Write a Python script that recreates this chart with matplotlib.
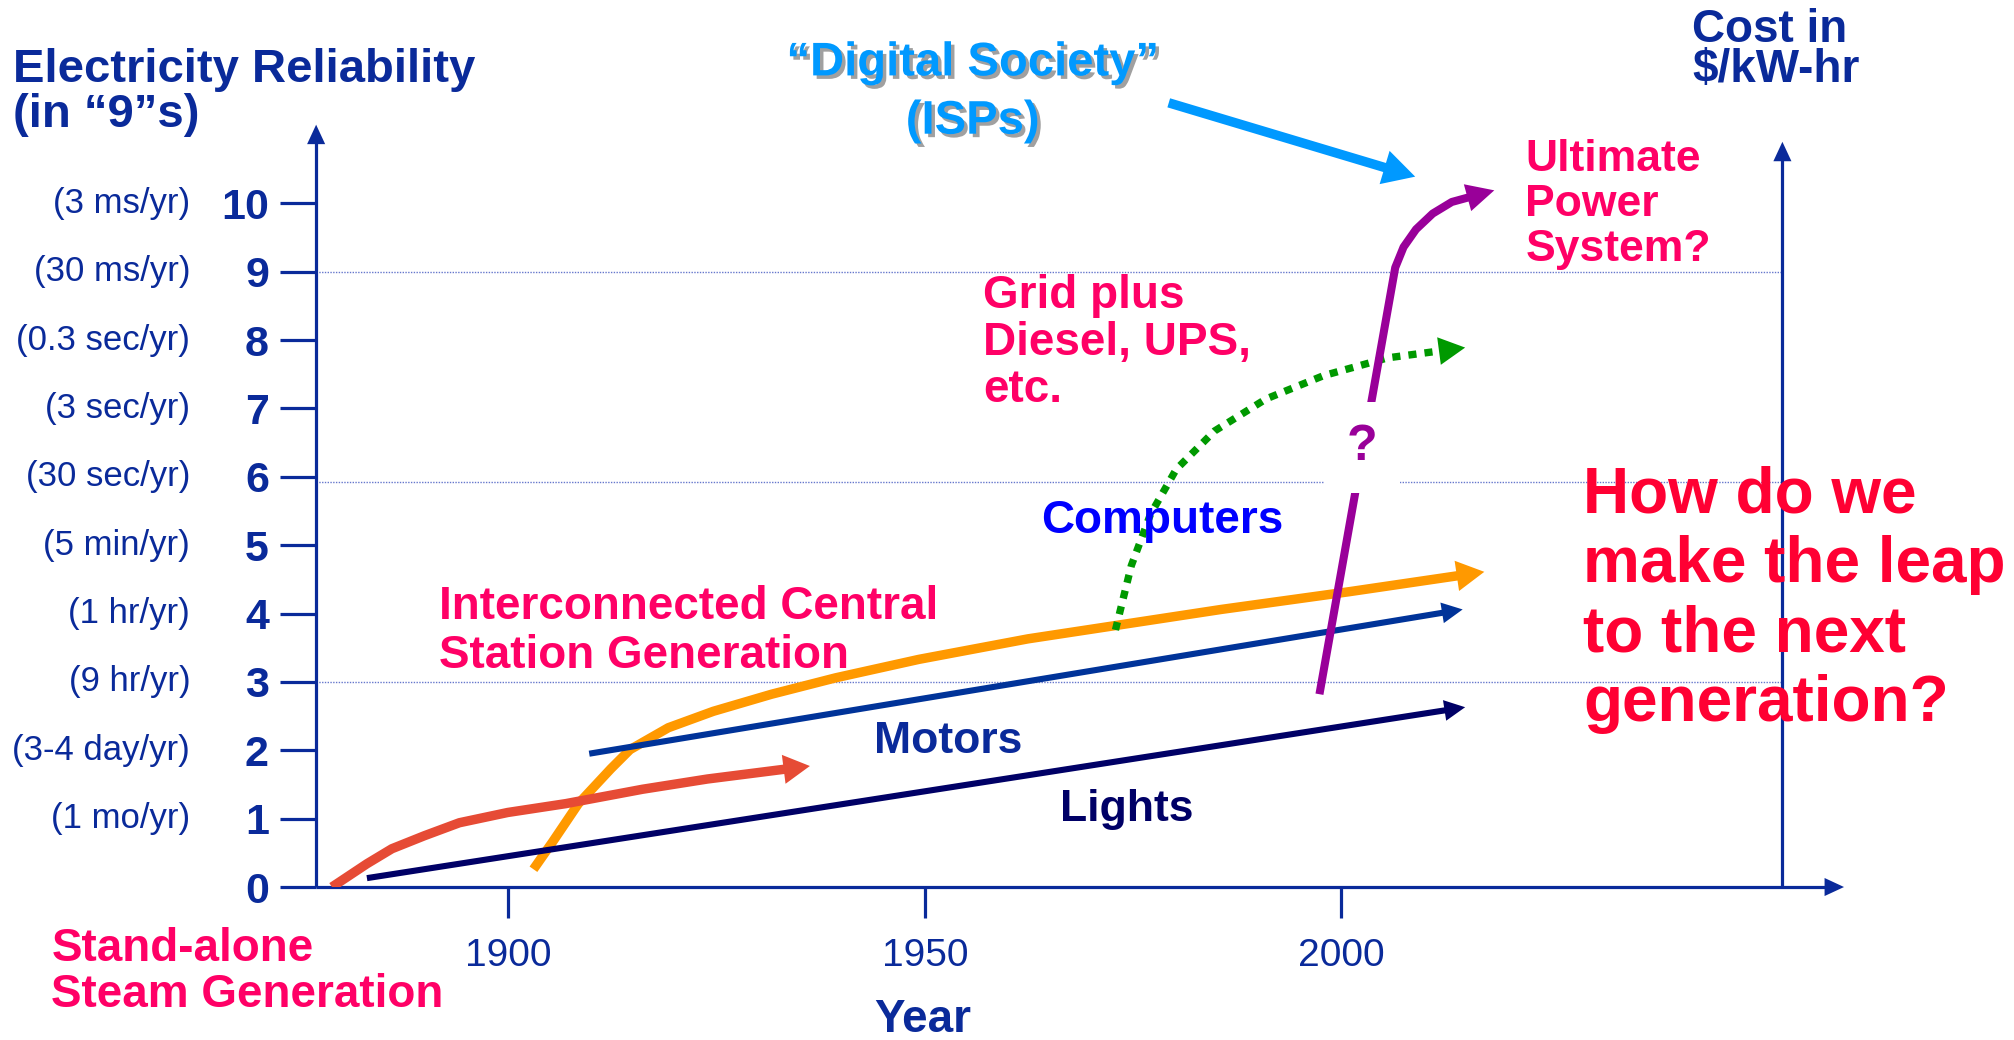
import numpy as np
import matplotlib
matplotlib.use('Agg')
import matplotlib.pyplot as plt
from matplotlib import patheffects as pe
from matplotlib import transforms as mtrans

plt.rcParams['font.family'] = ['Liberation Sans', 'DejaVu Sans']

# ---------------- data ----------------
levels = [0, 1, 2, 3, 4, 5, 6, 7, 8, 9, 10]
level_labels = ['0', '1', '2', '3', '4', '5', '6', '7', '8', '9', '10']
downtime_labels = ['', '(1 mo/yr)', '(3-4 day/yr)', '(9 hr/yr)', '(1 hr/yr)',
                   '(5 min/yr)', '(30 sec/yr)', '(3 sec/yr)', '(0.3 sec/yr)',
                   '(30 ms/yr)', '(3 ms/yr)']
year_ticks = [1900, 1950, 2000]
year_labels = ['1900', '1950', '2000']
grid_levels = [3, 5.92, 9]

steam_years = [1878.8, 1883.0, 1886.0, 1889.9, 1894.1, 1899.9, 1906.9, 1916.1, 1923.9, 1936.2]
steam_level = [0.0, 0.34, 0.56, 0.75, 0.94, 1.09, 1.22, 1.43, 1.58, 1.77]

lights_years = [1883.0, 2014.9]
lights_level = [0.13, 2.63]

motors_years = [1909.7, 2014.6]
motors_level = [1.95, 4.06]

central_years = [1903.0, 1905.3, 1908.4, 1912.3, 1914.6, 1919.2, 1924.6, 1931.6,
                 1939.3, 1949.3, 1962.4, 1973.2, 1985.6, 2001.0, 2017.2]
central_level = [0.26, 0.66, 1.22, 1.73, 2.01, 2.33, 2.57, 2.82,
                 3.06, 3.33, 3.63, 3.83, 4.06, 4.32, 4.61]

backup_years = [1972.9, 1974.8, 1977.1, 1980.2, 1984.8, 1991.0, 1997.9, 2005.6, 2014.9]
backup_level = [3.76, 4.70, 5.45, 6.11, 6.67, 7.14, 7.48, 7.74, 7.89]

ultimate_years = [1997.4, 2006.5, 2007.5, 2009.0, 2011.0, 2013.3, 2018.4]
ultimate_level = [2.82, 9.06, 9.36, 9.62, 9.85, 10.02, 10.19]

digital_years = [1979.3, 2008.9]
digital_level = [11.47, 10.39]

# ---------------- style ----------------
AX = '#0A2A9A'
PINK = '#FF0066'
RED = '#FF0033'
LBLUE = '#0099FF'
W_DISP, H_DISP = 1568.0, 809.0


def P(x, y):
    return (x / W_DISP, 1 - y / H_DISP)


fig = plt.figure(figsize=(20.15, 10.4), dpi=100)
fig.patch.set_facecolor('white')
ax = fig.add_axes([246 / W_DISP, 1 - 690 / H_DISP, (1387 - 246) / W_DISP, (690 - 97) / H_DISP])
X0, X1 = 1876.9, 2053.0
Y1 = 11.15
ax.set_xlim(X0, X1)
ax.set_ylim(0, Y1)
ax.set_facecolor('none')
for s in ax.spines.values():
    s.set_visible(False)


def arrow_series(xs, ys, color, lw, L, W, ls='-', z=3, clip=True):
    p0 = ax.transData.transform((xs[-2], ys[-2]))
    p1 = ax.transData.transform((xs[-1], ys[-1]))
    d = p1 - p0
    d = d / np.hypot(*d)
    Lpx = L * fig.dpi / 72.0
    base = ax.transData.inverted().transform(p1 - d * Lpx)
    mid = ax.transData.inverted().transform(p1 - d * Lpx * 0.5)
    ax.plot(list(xs[:-1]) + [mid[0]], list(ys[:-1]) + [mid[1]], color=color, lw=lw,
            ls=ls, solid_capstyle='butt', dash_capstyle='butt',
            solid_joinstyle='round', zorder=z, clip_on=clip)
    ax.annotate('', xy=(xs[-1], ys[-1]), xytext=(base[0], base[1]),
                arrowprops=dict(arrowstyle=f'-|>,head_length={L},head_width={W / 2}',
                                mutation_scale=1, lw=0, color=color,
                                shrinkA=0, shrinkB=0),
                zorder=z, annotation_clip=False)


# axes lines with arrows
arrow_series([X0, X0], [0, Y1], AX, 2.3, 14, 13, z=2, clip=False)
arrow_series([X1, X1], [0, 10.9], AX, 2.3, 14, 13, z=2, clip=False)
arrow_series([X0, 2060.4], [0, 0], AX, 2.3, 14, 13, z=2, clip=False)

# grid lines
for g in grid_levels:
    ax.plot([X0, X1], [g, g], color='#6677CC', lw=1.0, ls=(0, (1, 1)), zorder=1)

# ticks
ax.set_yticks(levels)
ax.set_yticklabels(level_labels, fontsize=31, fontweight='bold', color=AX)
ax.tick_params(axis='y', direction='out', length=26, width=2.3, color=AX, pad=8)
ax.set_xticks(year_ticks)
ax.set_xticklabels(year_labels, fontsize=28, color=AX)
ax.tick_params(axis='x', direction='out', length=22, width=2.3, color=AX, pad=15)

trans = mtrans.blended_transform_factory(fig.transFigure, ax.transData)
for v, lab in zip(levels, downtime_labels):
    fig.text(148 / W_DISP, v, lab, transform=trans, ha='right', va='center',
             fontsize=25, color=AX)

# series
arrow_series(central_years, central_level, '#FF9900', 6.8, 20, 22, z=3)
arrow_series(motors_years, motors_level, '#003399', 4.4, 15, 15, z=3.1)
arrow_series(lights_years, lights_level, '#000066', 4.4, 15, 15, z=3.2)
arrow_series(steam_years, steam_level, '#E64B35', 6.8, 19, 21, z=3.3)
arrow_series(backup_years, backup_level, '#009900', 5.3, 19, 20, ls=(0, (1.1, 1.1)), z=3.4)
arrow_series(ultimate_years, ultimate_level, '#990099', 5.8, 20, 20, z=3.5)
arrow_series(digital_years, digital_level, LBLUE, 6.8, 23, 25, z=3.6, clip=False)

# texts (y given = baseline of the LAST line)
bold = dict(fontweight='bold')
fig.text(*P(10, 99), 'Electricity Reliability\n(in \u201c9\u201ds)',
         ha='left', va='baseline', fontsize=34, color=AX, linespacing=1.03, **bold)
fig.text(*P(1317, 64), 'Cost in\n$/kW-hr', ha='left', va='baseline', fontsize=33,
         color=AX, linespacing=0.88, **bold)
fig.text(*P(757, 104), '\u201cDigital Society\u201d\n(ISPs)', ha='center', va='baseline',
         multialignment='center', fontsize=34, color=LBLUE, linespacing=1.42,
         path_effects=[pe.withSimplePatchShadow(offset=(2.5, -2.5), shadow_rgbFace='#A0A0A0', alpha=1.0)],
         **bold)
fig.text(*P(1187, 203), 'Ultimate\nPower\nSystem?', ha='left', va='baseline', fontsize=32,
         color=PINK, linespacing=1.12, **bold)
fig.text(*P(765, 313), 'Grid plus\nDiesel, UPS,\netc.', ha='left', va='baseline', fontsize=33,
         color=PINK, linespacing=1.1, **bold)
fig.text(*P(810, 415), 'Computers', ha='left', va='baseline', fontsize=33, color='#0000FF', **bold)
fig.text(*P(1232, 561), 'How do we\nmake the leap\nto the next\ngeneration?', ha='left',
         va='baseline', fontsize=46, color=RED, linespacing=1.2, zorder=5, **bold)
fig.text(*P(342, 520), 'Interconnected Central\nStation Generation', ha='left', va='baseline',
         fontsize=33, color=PINK, linespacing=1.15, **bold)
fig.text(*P(680, 586), 'Motors', ha='left', va='baseline', fontsize=32, color=AX, **bold)
fig.text(*P(825, 639), 'Lights', ha='left', va='baseline', fontsize=32, color='#000066', **bold)
fig.text(*P(40, 783), 'Stand-alone\nSteam Generation', ha='left', va='baseline', fontsize=33,
         color=PINK, linespacing=1.04, **bold)
fig.text(*P(718, 803), 'Year', ha='center', va='baseline', fontsize=33, color=AX, **bold)
fig.text(*P(1060, 348), '?', ha='center', va='center', fontsize=36, color='#990099', zorder=6,
         bbox=dict(facecolor='white', edgecolor='none', boxstyle='square,pad=0.45'), **bold)

fig.savefig('out.png', dpi=100)
